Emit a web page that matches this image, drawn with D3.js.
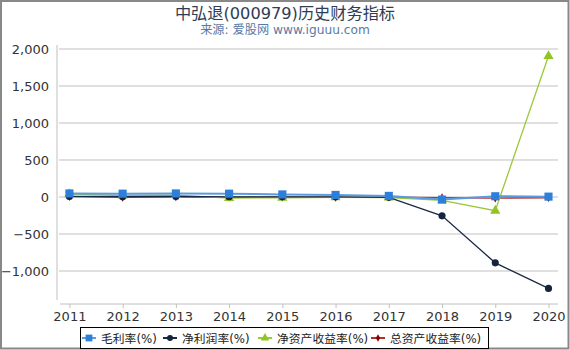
<!DOCTYPE html>
<html><head><meta charset="utf-8">
<script src="https://cdn.jsdelivr.net/npm/d3@7"></script>
<style>body{margin:0;background:#fff}svg{display:block}</style>
</head><body>
<script>
const years = ["2011","2012","2013","2014","2015","2016","2017","2018","2019","2020"];
const grossMargin = [48, 45, 48, 45, 35, 28, 15, -35, 10, 5];
const netMargin = [8, 5, 8, 3, 2, 2, -5, -255, -890, -1235];
const roe = [40, 20, 25, -15, -10, -5, -8, -45, -185, 1905];
const roa = [5, -5, 0, -3, -3, -5, -3, -10, -15, -10];
const yTicks = [-1000, -500, 0, 500, 1000, 1500, 2000];
const seriesNames = ["毛利率(%)", "净利润率(%)", "净资产收益率(%)", "总资产收益率(%)"];

const W = 570, H = 350;
const svg = d3.select("body").append("svg").attr("width", W).attr("height", H);
const font = "'DejaVu Sans', 'Noto Sans CJK SC', sans-serif";

svg.append("rect").attr("x",1).attr("y",1).attr("width",W-2.5).attr("height",H-2.5)
  .attr("fill","#fff").attr("stroke","#888").attr("stroke-width",2);

svg.append("text").attr("x",285).attr("y",18.5).attr("text-anchor","middle")
  .attr("font-family",font).attr("font-size",16.2).attr("fill","#2e3d55")
  .text("中弘退(000979)历史财务指标");
svg.append("text").attr("x",285).attr("y",34).attr("text-anchor","middle")
  .attr("font-family",font).attr("font-size",12.2).attr("fill","#5a7aa6")
  .text("来源: 爱股网 www.iguuu.com");

const x = d3.scalePoint().domain(years).range([69.4, 548.5]);
const y = d3.scaleLinear().domain([-1446, 2000]).range([304, 49]);

// gridlines
svg.append("g").selectAll("line").data(yTicks).join("line")
  .attr("x1",59).attr("x2",558).attr("y1",d=>y(d)).attr("y2",d=>y(d))
  .attr("stroke","#c0c0c0").attr("stroke-width",1);

// y axis
const yAxis = svg.append("g").attr("transform","translate(57,0)")
  .call(d3.axisLeft(y).tickValues(yTicks).tickSize(0).tickPadding(8).tickFormat(d3.format(",")));
yAxis.select(".domain").attr("d", `M0,45V300`).attr("stroke","#c0c0c0");
yAxis.selectAll("text").attr("font-family",font).attr("font-size",13).attr("fill","#333");

// x axis
const xAxis = svg.append("g").attr("transform","translate(0,304)")
  .call(d3.axisBottom(x).tickSize(4).tickPadding(4));
xAxis.select(".domain").attr("d","M60,0H558").attr("stroke","#c0c0c0");
xAxis.selectAll(".tick line").attr("stroke","#c0c0c0");
xAxis.selectAll("text").attr("font-family",font).attr("font-size",13).attr("fill","#333");

const series = [
  {name: seriesNames[0], data: grossMargin, line: "#5b9be0", mark: "#2e7fd9", sym: d3.symbolSquare, size: 66},
  {name: seriesNames[1], data: netMargin, line: "#1b2a44", mark: "#15233d", sym: d3.symbolCircle, size: 40},
  {name: seriesNames[2], data: roe, line: "#9bc83a", mark: "#92c424", sym: d3.symbolTriangle, size: 45},
  {name: seriesNames[3], data: roa, line: "#b03030", mark: "#8b0000", sym: d3.symbolDiamond, size: 22}
];
const drawOrder = [3, 2, 1, 0];
const line = d3.line().x((d,i)=>x(years[i])).y(d=>y(d));
drawOrder.forEach(k => {
  const s = series[k];
  svg.append("path").datum(s.data).attr("d", line).attr("fill","none")
    .attr("stroke", s.line).attr("stroke-width", k===0 ? 2 : 1.3);
  svg.append("g").selectAll("path").data(s.data).join("path")
    .attr("transform",(d,i)=>`translate(${x(years[i])},${y(d)})`)
    .attr("d", d3.symbol(s.sym, s.size)).attr("fill", s.mark);
});

// legend
const lg = svg.append("g");
lg.append("rect").attr("x",80.5).attr("y",327.5).attr("width",408).attr("height",21)
  .attr("fill","#fff").attr("stroke","#000").attr("stroke-width",1);
const legX = [89, 170, 265, 378];
series.forEach((s,k) => {
  const g = lg.append("g").attr("transform",`translate(${legX[k]},338)`);
  g.append("line").attr("x1",-7).attr("x2",7).attr("stroke",s.line).attr("stroke-width",2);
  g.append("path").attr("d", d3.symbol(s.sym, s.size*0.7)).attr("fill",s.mark);
  g.append("text").attr("x",12).attr("y",4.5).attr("font-family",font)
    .attr("font-size",11.8).attr("fill","#222").text(s.name);
});
</script>
</body></html>
